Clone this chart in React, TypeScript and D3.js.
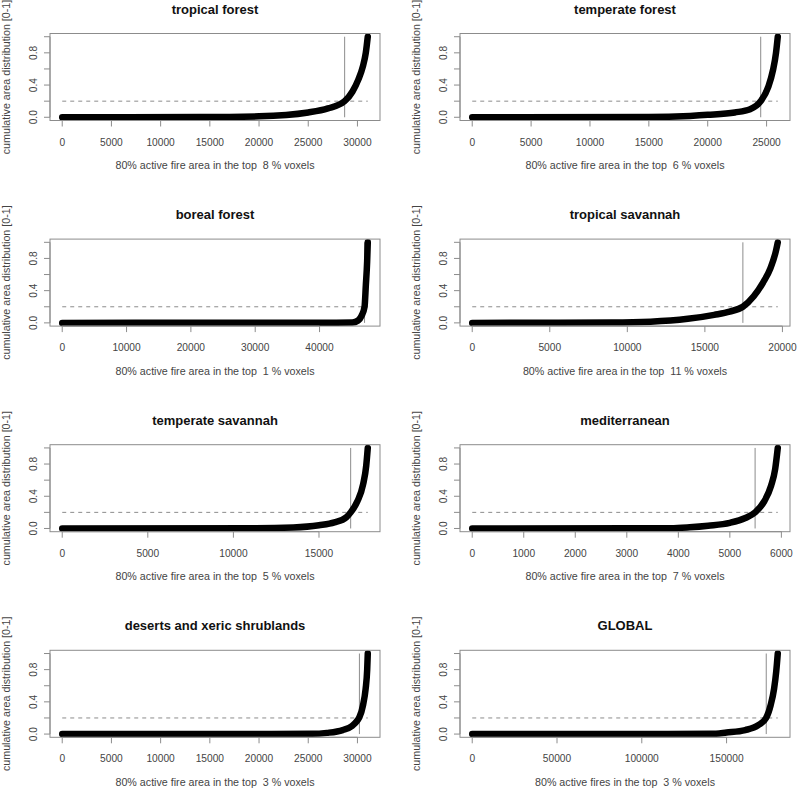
import React from "react";
import * as d3 from "d3";

// ---------- data ----------
const titles = [
  "tropical forest",
  "temperate forest",
  "boreal forest",
  "tropical savannah",
  "temperate savannah",
  "mediterranean",
  "deserts and xeric shrublands",
  "GLOBAL",
];

const voxelCounts = [31050, 25950, 47500, 19700, 17850, 5930, 31050, 180200];
const thresholdVoxel = [28700, 24500, 47000, 17450, 16850, 5490, 30200, 173400];
const topPercent = [8, 6, 1, 11, 5, 7, 3, 3];
const labelNouns = [
  "active fire area",
  "active fire area",
  "active fire area",
  "active fire area",
  "active fire area",
  "active fire area",
  "active fire area",
  "active fires",
];

const xTicks = [
  [0, 5000, 10000, 15000, 20000, 25000, 30000],
  [0, 5000, 10000, 15000, 20000, 25000],
  [0, 10000, 20000, 30000, 40000],
  [0, 5000, 10000, 15000, 20000],
  [0, 5000, 10000, 15000],
  [0, 1000, 2000, 3000, 4000, 5000, 6000],
  [0, 5000, 10000, 15000, 20000, 25000, 30000],
  [0, 50000, 100000, 150000],
];

const yTicks = [0, 0.2, 0.4, 0.6, 0.8, 1.0];
const yTickLabels = ["0.0", "", "0.4", "", "0.8", ""];

// cumulative area curves (voxel rank, cumulative fraction)
const tropicalForestX = [0, 14000, 20000, 25000, 27000, 28700, 29500, 30100, 30550, 30850, 31050];
const tropicalForestY = [0, 0.002, 0.012, 0.06, 0.11, 0.2, 0.32, 0.47, 0.63, 0.8, 1.0];

const temperateForestX = [0, 15000, 18500, 20000, 22300, 23600, 24500, 25150, 25550, 25800, 25950];
const temperateForestY = [0, 0.003, 0.017, 0.03, 0.06, 0.1, 0.2, 0.38, 0.59, 0.8, 1.0];

const borealForestX = [0, 40000, 45100, 46000, 46550, 47000, 47200, 47400, 47500];
const borealForestY = [0, 0.001, 0.005, 0.03, 0.09, 0.2, 0.47, 0.76, 1.0];

const tropicalSavannahX = [0, 9000, 11500, 13900, 15600, 16600, 17450, 18150, 18750, 19230, 19590, 19700];
const tropicalSavannahY = [0, 0.005, 0.015, 0.05, 0.1, 0.14, 0.2, 0.33, 0.5, 0.68, 0.9, 1.0];

const temperateSavannahX = [0, 11300, 13500, 15000, 15900, 16600, 16850, 17250, 17580, 17760, 17850];
const temperateSavannahY = [0, 0.002, 0.012, 0.04, 0.075, 0.14, 0.2, 0.34, 0.55, 0.78, 1.0];

const mediterraneanX = [0, 3850, 4220, 4580, 5000, 5300, 5490, 5670, 5800, 5880, 5930];
const mediterraneanY = [0, 0.003, 0.015, 0.035, 0.07, 0.13, 0.2, 0.34, 0.53, 0.74, 1.0];

const desertsX = [0, 25400, 26900, 28500, 29450, 30000, 30200, 30570, 30830, 30990, 31050];
const desertsY = [0, 0.003, 0.015, 0.05, 0.1, 0.17, 0.21, 0.36, 0.56, 0.8, 1.0];

const globalX = [0, 141000, 150000, 161000, 168700, 173300, 176000, 178000, 179300, 180200];
const globalY = [0, 0.003, 0.02, 0.05, 0.11, 0.2, 0.36, 0.56, 0.78, 1.0];

const curvesX = [tropicalForestX, temperateForestX, borealForestX, tropicalSavannahX, temperateSavannahX, mediterraneanX, desertsX, globalX];
const curvesY = [tropicalForestY, temperateForestY, borealForestY, tropicalSavannahY, temperateSavannahY, mediterraneanY, desertsY, globalY];

// ---------- layout ----------
const W = 800;
const H = 789;
const colLeft = [50, 460];
const boxW = 330;
const rowTop0 = 33.5;
const rowStep = 205.6;
const boxH = 87;

const FONT = "'Liberation Sans', Arial, Helvetica, sans-serif";
const TEXT = "#444";
const GRAY = "#8c8c8c";

function Panel({ i }: { i: number }) {
  const col = i % 2;
  const row = Math.floor(i / 2);
  const left = colLeft[col];
  const top = rowTop0 + row * rowStep;
  const right = left + boxW;
  const bottom = top + boxH;
  const N = voxelCounts[i];

  const x = d3.scaleLinear().domain([-0.04 * N, 1.04 * N]).range([left, right]);
  const y = d3.scaleLinear().domain([-0.04, 1.04]).range([bottom, top]);

  const pts: [number, number][] = curvesX[i].map((v, k) => [v, curvesY[i][k]]);
  const line = d3
    .line<[number, number]>()
    .x((d) => x(d[0]))
    .y((d) => y(d[1]))
    .curve(d3.curveMonotoneX);

  const ticks = xTicks[i];
  const label = `80% ${labelNouns[i]} in the top  ${topPercent[i]} % voxels`;

  return (
    <g>
      <text
        x={(left + right) / 2}
        y={top - 20}
        textAnchor="middle"
        fontFamily={FONT}
        fontWeight="bold"
        fontSize={13}
        fill="#111"
      >
        {titles[i]}
      </text>
      {/* dashed 0.2 line */}
      <line
        x1={x(0)}
        x2={x(N)}
        y1={y(0.2)}
        y2={y(0.2)}
        stroke={GRAY}
        strokeWidth={1}
        strokeDasharray="4,4"
      />
      {/* threshold vertical line */}
      <line
        x1={x(thresholdVoxel[i])}
        x2={x(thresholdVoxel[i])}
        y1={y(0)}
        y2={y(1)}
        stroke={GRAY}
        strokeWidth={1}
      />
      {/* curve of points */}
      <path
        d={line(pts) || ""}
        fill="none"
        stroke="#000"
        strokeWidth={6.5}
        strokeLinecap="round"
        strokeLinejoin="round"
      />
      {/* box */}
      <rect x={left} y={top} width={boxW} height={boxH} fill="none" stroke={GRAY} strokeWidth={1} />
      {/* x axis */}
      <line x1={x(ticks[0])} x2={x(ticks[ticks.length - 1])} y1={bottom} y2={bottom} stroke={GRAY} />
      {ticks.map((t) => (
        <g key={t}>
          <line x1={x(t)} x2={x(t)} y1={bottom} y2={bottom + 6} stroke={GRAY} />
          <text
            x={x(t)}
            y={bottom + 25}
            textAnchor="middle"
            fontFamily={FONT}
            fontSize={10.2}
            fill={TEXT}
          >
            {t}
          </text>
        </g>
      ))}
      <text
        x={(left + right) / 2}
        y={bottom + 48.5}
        textAnchor="middle"
        fontFamily={FONT}
        fontSize={10.7}
        fill={TEXT}
        style={{ whiteSpace: "pre" }}
      >
        {label}
      </text>
      {/* y axis */}
      <line x1={left} x2={left} y1={y(0)} y2={y(1)} stroke={GRAY} />
      {yTicks.map((t, k) => (
        <g key={t}>
          <line x1={left - 6} x2={left} y1={y(t)} y2={y(t)} stroke={GRAY} />
          {yTickLabels[k] && (
            <text
              transform={`translate(${left - 13.5},${y(t)}) rotate(-90)`}
              textAnchor="middle"
              fontFamily={FONT}
              fontSize={10.2}
              fill={TEXT}
            >
              {yTickLabels[k]}
            </text>
          )}
        </g>
      ))}
      <text
        transform={`translate(${left - 40},${(top + bottom) / 2}) rotate(-90)`}
        textAnchor="middle"
        fontFamily={FONT}
        fontSize={10.7}
        fill={TEXT}
      >
        cumulative area distribution [0-1]
      </text>
    </g>
  );
}

export default function App() {
  return (
    <svg
      width={W}
      height={H}
      style={{ position: "absolute", left: 0, top: 0, background: "#fff" }}
    >
      <rect width={W} height={H} fill="#fff" />
      {titles.map((_, i) => (
        <Panel key={i} i={i} />
      ))}
    </svg>
  );
}
